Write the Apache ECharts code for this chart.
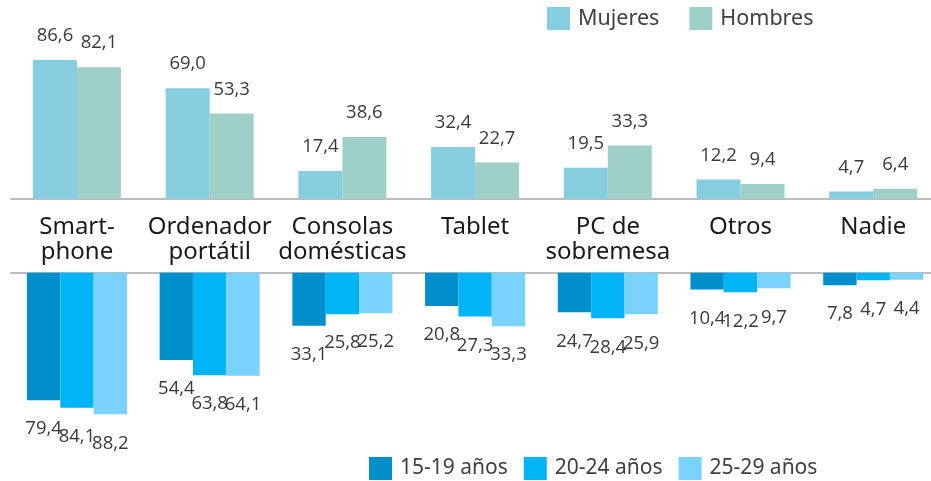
<!DOCTYPE html>
<html><head><meta charset="utf-8">
<script src="https://cdn.jsdelivr.net/npm/echarts@6/dist/echarts.min.js"></script>
<style>html,body{margin:0;padding:0;background:#fff}#c{width:931px;height:481px}</style>
</head><body><div id="c"></div>
<script>
const categories = ["Smart-\nphone", "Ordenador\nportátil", "Consolas\ndomésticas", "Tablet", "PC de\nsobremesa", "Otros", "Nadie"];
const mujeres = [86.6, 69.0, 17.4, 32.4, 19.5, 12.2, 4.7];
const hombres = [82.1, 53.3, 38.6, 22.7, 33.3, 9.4, 6.4];
const edad1519 = [79.4, 54.4, 33.1, 20.8, 24.7, 10.4, 7.8];
const edad2024 = [84.1, 63.8, 25.8, 27.3, 28.4, 12.2, 4.7];
const edad2529 = [88.2, 64.1, 25.2, 33.3, 25.9, 9.7, 4.4];

const fmt = p => p.value.toFixed(1).replace('.', ',');
const numFont = '"Open Sans", "Noto Sans", sans-serif';
const topLabel = {show: true, position: 'top', distance: 15, formatter: fmt, color: '#3a3a3a', fontSize: 18.5, fontFamily: numFont, lineHeight: 18};
const botLabel = {show: true, position: 'bottom', distance: 20, formatter: fmt, color: '#3a3a3a', fontSize: 18.5, fontFamily: numFont, lineHeight: 18};

const chart = echarts.init(document.getElementById('c'), null, {renderer: 'canvas'});
chart.setOption({
  animation: false,
  textStyle: {fontFamily: '"Noto Sans", sans-serif'},
  legend: [
    {data: ['Mujeres', 'Hombres'], left: 547, top: 7, padding: 0, itemWidth: 23, itemHeight: 23, itemGap: 30,
     icon: 'rect', textStyle: {fontSize: 21.5, color: '#404040', fontFamily: '"Noto Sans", sans-serif', padding: [0,0,0,3]}},
    {data: ['15-19 años', '20-24 años', '25-29 años'], left: 369, top: 457, padding: 0, itemWidth: 23, itemHeight: 23, itemGap: 16,
     icon: 'rect', textStyle: {fontSize: 21, color: '#404040', fontFamily: '"Noto Sans", sans-serif', padding: [0,0,0,3]}}
  ],
  grid: [
    {left: 10.6, top: 38.4, width: 929, height: 160.6, outerBoundsMode: 'none', containLabel: false},
    {left: 10.6, top: 272.7, width: 929, height: 160.6, outerBoundsMode: 'none', containLabel: false}
  ],
  xAxis: [
    {gridIndex: 0, type: 'category', data: categories, position: 'bottom',
     axisLine: {show: true, lineStyle: {color: '#A6A6A6', width: 1.5}}, axisTick: {show: false},
     axisLabel: {show: true, interval: 0, margin: 15.5, fontSize: 24, lineHeight: 25, color: '#1a1a1a', fontFamily: '"Noto Sans", sans-serif', verticalAlign: 'top'}},
    {gridIndex: 1, type: 'category', data: categories, position: 'top',
     axisLine: {show: true, onZero: false, lineStyle: {color: '#A6A6A6', width: 1.5}}, axisTick: {show: false},
     axisLabel: {show: false}}
  ],
  yAxis: [
    {gridIndex: 0, type: 'value', min: 0, max: 100, show: false, splitLine: {show: false}},
    {gridIndex: 1, type: 'value', min: 0, max: 100, inverse: true, show: false, splitLine: {show: false}}
  ],
  series: [
    {name: 'Mujeres', type: 'bar', xAxisIndex: 0, yAxisIndex: 0, data: mujeres, barGap: '0%', barCategoryGap: '33.7%',
     itemStyle: {color: '#86CDE0'}, label: topLabel},
    {name: 'Hombres', type: 'bar', xAxisIndex: 0, yAxisIndex: 0, data: hombres, barGap: '0%', barCategoryGap: '33.7%',
     itemStyle: {color: '#9ED0C7'}, label: topLabel},
    {name: '15-19 años', type: 'bar', xAxisIndex: 1, yAxisIndex: 1, data: edad1519, barGap: '0%', barCategoryGap: '24.6%',
     itemStyle: {color: '#008FCA'}, label: botLabel},
    {name: '20-24 años', type: 'bar', xAxisIndex: 1, yAxisIndex: 1, data: edad2024, barGap: '0%', barCategoryGap: '24.6%',
     itemStyle: {color: '#00B4F6'}, label: botLabel},
    {name: '25-29 años', type: 'bar', xAxisIndex: 1, yAxisIndex: 1, data: edad2529, barGap: '0%', barCategoryGap: '24.6%',
     itemStyle: {color: '#7AD3FF'}, label: botLabel}
  ]
});
</script></body></html>
